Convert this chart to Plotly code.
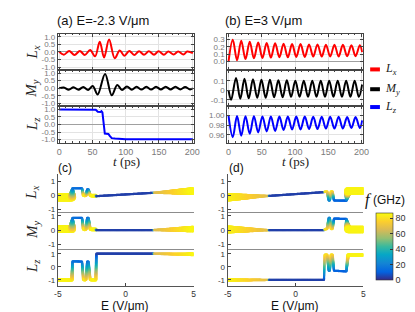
import numpy as np
import plotly.graph_objects as go

W, H = 415, 312

# ---------------- panel (a) E=-2.3 V/um : extrema of the time traces ----------------
ta_lx = [0, 7, 15, 23, 31, 38.5, 46.5, 54, 61, 67.5, 75, 83.5, 91, 98, 105.4, 112.8, 120.1,
         127.5, 134.8, 142.6, 149.5, 157.4, 164.2, 172.1, 178.9, 186.8, 192.6, 201]
va_lx = [0.02, -0.18, 0.06, -0.2, 0.06, -0.2, 0.12, -0.29, 0.68, -0.37, 0.82, -0.42, 0.1, -0.25,
         0.06, -0.2, 0.05, -0.19, 0.04, -0.18, 0.04, -0.18, 0.03, -0.17, 0.03, -0.17, 0.03, -0.08]
ta_my = [0, 7, 14.3, 21.6, 28.9, 36.2, 43.5, 50.5, 57.8, 69, 79, 87.3, 94.5, 101.8, 109.1, 116.4,
         123.7, 131, 138.3, 145.6, 152.9, 160.2, 167.5, 174.8, 182.1, 189.4, 196.7, 201]
va_my = [0.0, 0.05, -0.1, 0.07, -0.1, 0.08, -0.12, 0.15, -0.42, 0.95, -0.47, 0.22, -0.12, 0.12,
         -0.1, 0.1, -0.09, 0.1, -0.09, 0.09, -0.08, 0.09, -0.08, 0.09, -0.08, 0.08, -0.08, 0.0]
ta_lz = [0, 20, 40, 55, 58, 60, 62, 63.5, 65, 68.6, 74, 76, 79, 84, 90, 100, 150, 201]
va_lz = [0.99, 0.99, 0.98, 0.97, 0.84, 0.82, 0.83, 0.88, 0.8, -0.6, -0.62, -0.75, -0.9, -0.93,
         -0.96, -0.97, -0.98, -0.98]

# ---------------- panel (b) E=3 V/um ----------------
tb_lx = [0, 6.4, 12.8, 19.1, 25.5, 31.9, 38.2, 44.6, 51.0, 57.4, 63.7, 70.1, 76.5, 82.8, 89.2,
         95.6, 101.9, 108.3, 114.7, 121.1, 127.4, 133.8, 140.2, 146.5, 152.9, 159.3, 165.6,
         172.0, 178.4, 184.8, 191.1, 197.5, 201]
vb_lx = [0.0, 0.30, 0.02, 0.285, 0.035, 0.27, 0.045, 0.26, 0.05, 0.255, 0.055, 0.25, 0.06, 0.245,
         0.06, 0.24, 0.065, 0.24, 0.065, 0.235, 0.07, 0.235, 0.07, 0.23, 0.07, 0.23, 0.07, 0.23,
         0.075, 0.225, 0.075, 0.225, 0.13]
tb_my = [0, 4.0, 11.3, 17.7, 24.0, 30.4, 36.8, 43.2, 49.5, 55.9, 62.3, 68.6, 75.0, 81.4, 87.7,
         94.1, 100.5, 106.9, 113.2, 119.6, 126.0, 132.3, 138.7, 145.1, 151.4, 157.8, 164.2,
         170.6, 176.9, 183.3, 189.7, 196.0, 201]
vb_my = [0.0, -0.1, 0.13, -0.09, 0.12, -0.085, 0.115, -0.08, 0.11, -0.08, 0.11, -0.075, 0.105,
         -0.075, 0.105, -0.07, 0.1, -0.07, 0.1, -0.07, 0.1, -0.07, 0.1, -0.07, 0.1, -0.07, 0.1,
         -0.07, 0.1, -0.07, 0.1, -0.07, 0.06]
tb_lz = tb_lx
vb_lz = [1.0, 0.955, 0.9995, 0.958, 0.999, 0.962, 0.999, 0.965, 0.9985, 0.967, 0.9985, 0.968,
         0.998, 0.97, 0.998, 0.971, 0.998, 0.971, 0.998, 0.972, 0.9975, 0.972, 0.9975, 0.973,
         0.9975, 0.973, 0.9975, 0.973, 0.997, 0.974, 0.997, 0.974, 0.99]

# ---------------- panel (c): sweep in E (key points) ----------------
E_c = [-5.0, -3.96, -3.92, -3.22, -3.12, -3.02, -2.92, -2.84, -2.74, -2.62, -2.52, -2.20, -2.16, 2.00, 2.10, 5.00]
Lx_c = [-0.15, -0.15, 0.50, 0.50, 0.00, -0.02, 0.00, 0.42, 0.42, 0.00, -0.03, -0.03, -0.07, 0.17, 0.18, 0.30]
My_c = [0.08, 0.08, 0.85, 0.85, 0.08, 0.05, 0.08, 0.85, 0.85, 0.08, 0.05, 0.05, 0.00, 0.00, 0.01, 0.08]
Lz_c = [-1.00, -1.00, 0.42, 0.40, -0.98, -1.00, -0.98, 0.40, 0.40, -0.98, -1.00, -1.00, 1.00, 1.00, 1.00, 0.96]
f_c = [85, 85, 16, 12, 78, 85, 78, 16, 16, 78, 85, 85, 4, 4, 66, 86]
wLx_c = [0.22, 0.22, 0, 0, 0.03, 0.05, 0.03, 0, 0, 0.03, 0.05, 0.05, 0, 0, 0.0, 0.2]
wMy_c = [0.2, 0.2, 0, 0, 0.03, 0.05, 0.03, 0, 0, 0.03, 0.05, 0.05, 0, 0, 0, 0.15]
wLz_c = [0.05, 0.05, 0, 0, 0.02, 0.03, 0.02, 0, 0, 0.02, 0.03, 0.03, 0, 0, 0, 0.06]

# ---------------- panel (d) ----------------
E_d = [-5.0, -2.00, -1.92, 2.10, 2.15, 2.33, 2.45, 2.53, 2.62, 2.72, 2.84, 3.75, 3.87, 5.00]
Lx_d = [-0.15, -0.05, -0.05, 0.22, 0.25, 0.25, -0.38, -0.38, 0.25, 0.25, -0.38, -0.40, 0.30, 0.30]
My_d = [0.05, 0.00, 0.00, 0.00, 0.05, 0.10, 0.85, 0.85, 0.10, 0.10, 0.80, 0.78, 0.05, 0.05]
Lz_d = [-1.00, -1.00, -1.00, -1.00, 0.92, 0.92, -0.30, -0.30, 0.92, 0.92, -0.30, -0.35, 0.90, 0.90]
f_d = [86, 68, 4, 4, 80, 80, 22, 22, 80, 80, 12, 10, 85, 85]
wLx_d = [0.22, 0, 0, 0, 0, 0.02, 0, 0, 0.02, 0.02, 0, 0, 0.2, 0.2]
wMy_d = [0.2, 0, 0, 0, 0, 0.02, 0, 0, 0.02, 0.02, 0, 0, 0.18, 0.18]
wLz_d = [0.06, 0, 0, 0, 0, 0.02, 0, 0, 0.02, 0.02, 0, 0, 0.05, 0.05]

t_ticks = [0, 50, 100, 150, 200]
E_ticks = [-5, 0, 5]
cb_ticks = [0, 20, 40, 60, 80]

parula = [[0.0, '#352a87'], [0.12, '#0363e1'], [0.25, '#1485d4'], [0.38, '#06a7c6'],
          [0.5, '#38b99e'], [0.62, '#92bf73'], [0.75, '#d9ba56'], [0.87, '#fcce2e'], [1.0, '#f9fb0e']]
FMAX = 87

SANS = 'Liberation Sans, Arial'
SERIF = 'Liberation Serif, Times New Roman'


def fx(px):
    return px / W


def fy(py):
    return 1 - py / H


layout = dict(width=W, height=H, margin=dict(l=0, r=0, t=0, b=0),
              paper_bgcolor='white', plot_bgcolor='white', showlegend=False)

traces = []
annotations = []
shapes = []

# ---- axis geometry ----
top_rows = [(25, 61.7), (61.7, 98.3), (98.3, 135)]
bot_rows = [(167, 205), (205, 242.5), (242.5, 279.5)]
xa, xb = (47, 186), (220.5, 359.5)
xc, xd = (47, 186), (221, 360)

top_yr_a = [[-1.2, 1.2], [-1.2, 1.2], [-1.2, 1.2]]
top_yt_a = [[-1, -0.5, 0, 0.5, 1]] * 3
top_ytt_a = [['-1.0', '-0.5', '0.0', '0.5', '1.0']] * 3
top_yr_b = [[-0.115, 0.38], [-0.17, 0.212], [0.9434, 1.0195]]
top_yt_b = [[0, 0.1, 0.2, 0.3], [-0.1, 0, 0.1], [0.96, 0.98, 1.0]]
top_ytt_b = [['0.0', '0.1', '0.2', '0.3'], ['-0.1', '0', '0.1'], ['0.96', '0.98', '1.00']]
bot_yr = [[-1.21, 1.5], [-1.32, 1.26], [-1.45, 1.35]]

ax_id = 0


def new_axes(xdom, ydom, xr, yr, style, last_row, ytv=None, ytt=None):
    global ax_id
    ax_id += 1
    sfx = '' if ax_id == 1 else str(ax_id)
    xk, yk = 'xaxis' + sfx, 'yaxis' + sfx
    xd_ = [fx(xdom[0]), fx(xdom[1])]
    yd_ = [fy(ydom[1]), fy(ydom[0])]
    if style == 'math':
        xa_ = dict(domain=xd_, range=xr, anchor='y' + sfx, showline=True, linecolor='#444',
                   linewidth=1, mirror='ticks', ticks='inside', ticklen=3, tickcolor='#444',
                   tickvals=t_ticks, showticklabels=last_row, showgrid=True,
                   gridcolor='#e3e3e3', zeroline=False,
                   tickfont=dict(family=SANS, size=9, color='#7a7a7a'),
                   minor=dict(ticks='inside', ticklen=1.5, tickcolor='#444', dtick=10))
        ya_ = dict(domain=yd_, range=yr, anchor='x' + sfx, showline=True, linecolor='#444',
                   linewidth=1, mirror='ticks', ticks='inside', ticklen=3, tickcolor='#444',
                   tickvals=ytv, ticktext=ytt, showgrid=True, gridcolor='#e3e3e3',
                   zeroline=True, zerolinecolor='#a0a0a0', zerolinewidth=1,
                   tickfont=dict(family=SANS, size=8, color='#7a7a7a'))
    else:
        xa_ = dict(domain=xd_, range=xr, anchor='y' + sfx, showline=True,
                   linecolor='#555' if last_row else '#8c8c8c', linewidth=1,
                   ticks='inside' if last_row else '', ticklen=3, tickcolor='#444',
                   tickvals=E_ticks, ticktext=['-5', '0', '5'], showticklabels=last_row,
                   showgrid=False, zeroline=False,
                   tickfont=dict(family=SANS, size=8.5, color='#333'))
        ya_ = dict(domain=yd_, range=yr, anchor='x' + sfx, showline=True, linecolor='#555',
                   linewidth=1, ticks='inside', ticklen=3, tickcolor='#444',
                   tickvals=[-1, 0, 1], ticktext=['-1', '0', '1'], showgrid=False,
                   zeroline=False, tickfont=dict(family=SANS, size=8, color='#333'))
    layout[xk] = xa_
    layout[yk] = ya_
    return 'x' + sfx, 'y' + sfx


# ---- top panels ----
colors = ['#ff0000', '#000000', '#0000ff']
a_data = [(ta_lx, va_lx), (ta_my, va_my), (ta_lz, va_lz)]
b_data = [(tb_lx, vb_lx), (tb_my, vb_my), (tb_lz, vb_lz)]
for i in range(3):
    x_, y_ = new_axes(xa, top_rows[i], [-2, 202], top_yr_a[i], 'math', i == 2,
                      top_yt_a[i], top_ytt_a[i])
    shape = 'linear' if i == 2 else 'spline'
    traces.append(go.Scatter(x=a_data[i][0], y=a_data[i][1], mode='lines', xaxis=x_, yaxis=y_,
                             line=dict(color=colors[i], width=2, shape=shape), hoverinfo='skip'))
for i in range(3):
    x_, y_ = new_axes(xb, top_rows[i], [-2, 202], top_yr_b[i], 'math', i == 2,
                      top_yt_b[i], top_ytt_b[i])
    traces.append(go.Scatter(x=b_data[i][0], y=b_data[i][1], mode='lines', xaxis=x_, yaxis=y_,
                             line=dict(color=colors[i], width=2, shape='spline'), hoverinfo='skip'))


# ---- bottom panels: colour-coded, width-coded sweep lines ----
def densify(E, V, F, Wd, ppx, ppy):
    xs, ys, fs, ws = [], [], [], []
    for i in range(len(E) - 1):
        dx = (E[i + 1] - E[i]) * ppx
        dy = (V[i + 1] - V[i]) * ppy
        n = int(np.ceil(np.hypot(dx, dy) / 0.35)) + 1
        s = np.linspace(0, 1, n, endpoint=False)
        xs.append(E[i] + s * (E[i + 1] - E[i]))
        ys.append(V[i] + s * (V[i + 1] - V[i]))
        fs.append(F[i] + s * (F[i + 1] - F[i]))
        ws.append(Wd[i] + s * (Wd[i + 1] - Wd[i]))
    xs.append([E[-1]]); ys.append([V[-1]]); fs.append([F[-1]]); ws.append([Wd[-1]])
    return (np.concatenate(xs), np.concatenate(ys), np.concatenate(fs), np.concatenate(ws))


panels_bot = [
    (xc, E_c, [Lx_c, My_c, Lz_c], f_c, [wLx_c, wMy_c, wLz_c]),
    (xd, E_d, [Lx_d, My_d, Lz_d], f_d, [wLx_d, wMy_d, wLz_d]),
]
first_scale = True
for xdom, E, comps, F, widths in panels_bot:
    for i in range(3):
        x_, y_ = new_axes(xdom, bot_rows[i], [-5, 5], bot_yr[i], 'matlab', i == 2)
        ppx = (xdom[1] - xdom[0]) / 10.0
        ppy = (bot_rows[i][1] - bot_rows[i][0]) / (bot_yr[i][1] - bot_yr[i][0])
        X, Y, Fv, Wv = densify(E, comps[i], F, widths[i], ppx, ppy)
        size = 2.3 + 2 * Wv * ppy
        show = first_scale
        first_scale = False
        mk = dict(color=Fv, colorscale=parula, cmin=0, cmax=FMAX, size=size, line=dict(width=0),
                  showscale=show)
        if show:
            mk['colorbar'] = dict(x=fx(373), xanchor='left', y=fy(239.7), yanchor='middle',
                                  len=67.3, lenmode='pixels', thickness=17,
                                  thicknessmode='pixels', xpad=0, ypad=0, outlinewidth=0.6,
                                  outlinecolor='#333', tickvals=cb_ticks, ticks='inside',
                                  ticklen=3, tickcolor='#333',
                                  tickfont=dict(family=SANS, size=9, color='#333'))
        traces.append(go.Scatter(x=X, y=Y, mode='markers', xaxis=x_, yaxis=y_, marker=mk,
                                 hoverinfo='skip'))

# ---- text ----
def ann(text, x, y, size, family=SANS, color='#111', xanchor='center', angle=0):
    annotations.append(dict(text=text, x=fx(x), y=fy(y), xref='paper', yref='paper',
                            showarrow=False, xanchor=xanchor, yanchor='middle',
                            textangle=angle, borderpad=0,
                            font=dict(family=family, size=size, color=color)))


ann('(a) E=-2.3 V/μm', 45, 12, 13, xanchor='left')
ann('(b) E=3 V/μm', 217, 12, 13, xanchor='left')
comp_names = ['<i>L</i><sub><i>x</i></sub>', '<i>M</i><sub><i>y</i></sub>', '<i>L</i><sub><i>z</i></sub>']
for i, r in enumerate(top_rows):
    ann(comp_names[i], 21, (r[0] + r[1]) / 2, 15, family=SERIF, color='#222', angle=-90)
for i, r in enumerate(bot_rows):
    ann(comp_names[i], 21, (r[0] + r[1]) / 2 - 1, 15, family=SERIF, color='#222', angle=-90)
ann('<i>t</i> (ps)', 117, 154, 13, family=SERIF, color='#222')
ann('<i>t</i> (ps)', 290, 154, 13, family=SERIF, color='#222')
ann('(c)', 46, 161, 12, xanchor='left')
ann('(d)', 221, 161, 12, xanchor='left')
ann('E (V/μm)', 116, 299.5, 12)
ann('E (V/μm)', 290, 299.5, 12)
ann('<i>f</i>', 365, 193, 16, family=SERIF, color='#111')
ann('(GHz)', 404, 193, 12, xanchor='right')

# legend keys for the time traces
leg_y = [61, 81, 99]
for i in range(3):
    shapes.append(dict(type='line', xref='paper', yref='paper', x0=fx(367), x1=fx(377),
                       y0=fy(leg_y[i]), y1=fy(leg_y[i]), line=dict(color=colors[i], width=4)))
    ann(comp_names[i], 381, leg_y[i], 12, family=SERIF, color='#222', xanchor='left')

layout['annotations'] = annotations
layout['shapes'] = shapes

fig = go.Figure(data=traces, layout=layout)
fig.write_html('out.html')
